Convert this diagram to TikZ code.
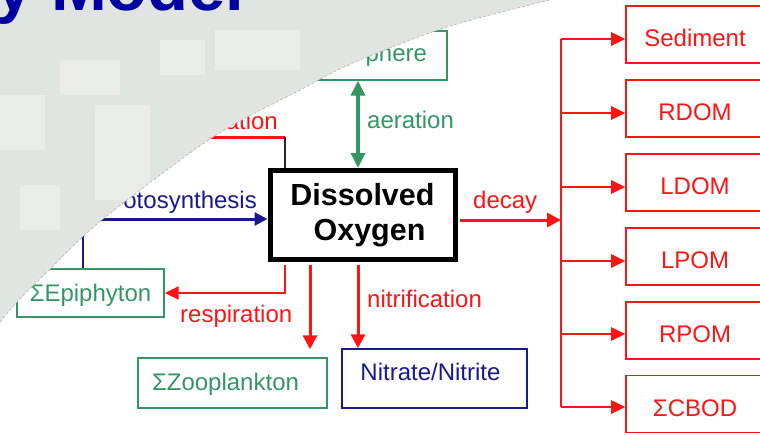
\documentclass[tikz,border=0pt]{standalone}
\usepackage{fontspec}
\setmainfont{Liberation Sans}
\usetikzlibrary{arrows.meta}
\definecolor{dored}{RGB}{255,20,20}
\definecolor{dogreen}{RGB}{51,150,100}
\definecolor{donavy}{RGB}{25,25,140}
\definecolor{dotitle}{RGB}{0,0,160}
\definecolor{bggray}{RGB}{225,229,225}
\definecolor{bglight}{RGB}{233,236,233}
\begin{document}
\begin{tikzpicture}[x=1pt,y=-1pt,
  every node/.style={inner sep=0pt, font=\fontsize{24}{28}\selectfont},
  lbl/.style={inner sep=0pt},
  gbox/.style={draw=dogreen, line width=1.4pt, text=dogreen},
  nbox/.style={draw=donavy, line width=1.4pt, text=donavy},
  rbox/.style={draw=dored, line width=1.6pt, text=dored, minimum width=138pt, minimum height=57pt, text height=24pt, text depth=0pt},
  dobox/.style={draw=black, line width=5pt, fill=white, minimum width=185pt, minimum height=89pt, align=center, font=\fontsize{30.5}{35}\selectfont\bfseries},
  redarr/.style={draw=dored, line width=3pt, -{Triangle[length=14pt,width=14pt]}},
  redthin/.style={draw=dored, line width=2pt},
  greenarr/.style={draw=dogreen, line width=3.5pt, {Triangle[length=15pt,width=14pt]}-{Triangle[length=15pt,width=14pt]}},
  navyarr/.style={draw=donavy, line width=3pt, -{Triangle[length=13pt,width=13pt]}},
  thinln/.style={line width=1.3pt}
]
\useasboundingbox (0,0) rectangle (760,434);
\clip (0,0) rectangle (760,434);

% Dissolved Oxygen
\node[dobox] (do) at (362.5,215) {Dissolved\\\hspace*{14pt}Oxygen};

% Atmosphere
\node[gbox, minimum width=147pt, minimum height=49pt, text width=107pt, align=right, inner xsep=20pt] (atm) at (373.5,55.5) {phere};
\coordinate (aer) at (358,120);
\draw[greenarr] (atm.south -| aer) -- (do.north -| aer);
\node[lbl, text=dogreen, anchor=base west] (laer) at (367,128) {aeration};

% "ation" connector
\coordinate (at1) at (190,137);
\coordinate (at2) at (285,137);
\draw[draw=dored, line width=3pt] (at1) -- (at2);
\draw[thinln, draw=black!85] (at2) -- (do.north -| at2);
\node[lbl, text=dored, anchor=base east] (lat) at (278,129) {ation};

% Epiphyton and photosynthesis
\node[gbox, minimum width=147pt, minimum height=48pt, text height=17pt, text depth=1pt] (epi) at (90.5,293) {ΣEpiphyton};
\coordinate (ph) at (83,219);
\draw[thinln, draw=donavy] (epi.north -| ph) -- (ph);
\draw[navyarr] (ph) -- (do.west |- ph);
\node[lbl, text=donavy, anchor=base east] (lph) at (257,208) {otosynthesis};

% respiration
\coordinate (resp) at (285,293);
\draw[redthin, -{Triangle[length=14pt,width=13pt]}, shorten <=2.5pt] (do.south -| resp) -- (resp) -- (epi.east);
\node[lbl, text=dored, anchor=base west] (lresp) at (180,322) {respiration};

% Zooplankton
\node[gbox, minimum width=189pt, minimum height=50pt, text height=17pt, text depth=3pt] (zoo) at (232.5,383) {ΣZooplankton\hspace*{14pt}};
\coordinate (zx) at (310,300);
\draw[redarr, shorten <=2.5pt, shorten >=8pt] (do.south -| zx) -- (zoo.north -| zx);

% Nitrate/Nitrite
\node[nbox, minimum width=185pt, minimum height=59pt, text height=17pt, text depth=14pt] (nit) at (434.5,378.5) {Nitrate/Nitrite\hspace*{8pt}};
\coordinate (nx) at (358,300);
\draw[redarr, shorten <=2.5pt] (do.south -| nx) -- (nit.north -| nx);
\node[lbl, text=dored, anchor=base west] (lnit) at (367,307) {nitrification};

% decay
\coordinate (bus) at (561,220);
\draw[redarr, shorten <=2.5pt] (do.east |- bus) -- (bus);
\node[lbl, text=dored, anchor=base west] (ldec) at (473,208) {decay};

% right boxes
\node[rbox] (sed) at (695,34.5) {Sediment};
\node[rbox] (rdom) at (695,108.5) {RDOM};
\node[rbox] (ldom) at (695,182.5) {LDOM};
\node[rbox] (lpom) at (695,256.5) {LPOM};
\node[rbox] (rpom) at (695,330.5) {RPOM};
\node[rbox] (cbod) at (695,404) {ΣCBOD};
\coordinate (b1) at (561,39);
\coordinate (b2) at (561,113);
\coordinate (b3) at (561,187);
\coordinate (b4) at (561,261);
\coordinate (b5) at (561,334);
\coordinate (b6) at (561,407);
\draw[draw=dored, line width=2.5pt] (b1) -- (b6);
\foreach \b/\t in {b1/sed,b2/rdom,b3/ldom,b4/lpom,b5/rpom,b6/cbod}
  \draw[draw=dored, line width=2.7pt, -{Triangle[length=14pt,width=13pt]}] (\b) -- (\t.west |- \b);

% background overlay
\begin{scope}
\fill[bggray] (0,0) -- plot[smooth] coordinates {(0,322) (17,302) (50,269) (103,219) (213,137) (300,90) (353,63) (447,27) (550,0)} -- cycle;
\clip (0,0) -- plot[smooth] coordinates {(0,322) (17,302) (50,269) (103,219) (213,137) (300,90) (353,63) (447,27) (550,0)} -- cycle;
\fill[bglight] (0,95) rectangle (45,150);
\fill[bglight] (60,60) rectangle (120,95);
\fill[bglight] (95,105) rectangle (150,200);
\fill[bglight] (215,30) rectangle (300,70);
\fill[bglight] (160,40) rectangle (205,75);
\fill[bglight] (20,185) rectangle (60,230);
\end{scope}
\draw[black!30, line width=0.6pt, dash pattern=on 3pt off 2pt] plot[smooth] coordinates {(0,322) (17,302) (50,269) (103,219) (213,137) (300,90) (353,63) (447,27) (550,0)};

% title
\node[lbl, text=dotitle, anchor=base west, font=\fontsize{67}{70}\selectfont\bfseries] (title) at (-5,10) {y Model};
\end{tikzpicture}
\end{document}
